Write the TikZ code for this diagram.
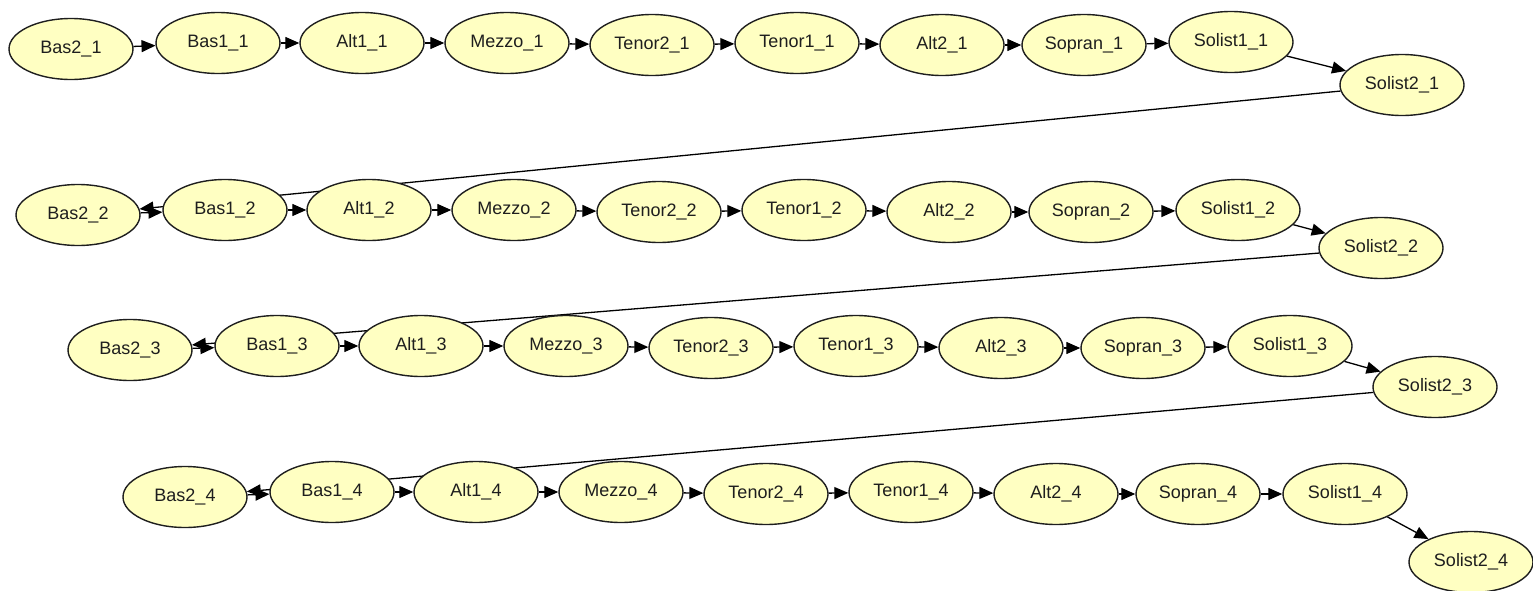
\documentclass[tikz,border=0pt]{standalone}
\usepackage{fontspec}
\setmainfont{Liberation Sans}
\usepackage{tikz}
\usetikzlibrary{shapes.geometric,arrows.meta,backgrounds}
\definecolor{yellish}{HTML}{FFFFC2}
\definecolor{dgreyish}{HTML}{1E1E1E}

\begin{document}
\begin{tikzpicture}[
   x=0.5pt, y=-0.5pt,
   every node/.append style={font=\fontsize{9}{10}\selectfont, text=dgreyish},
   voice/.style={ellipse, draw=dgreyish, fill=yellish, line width=0.7pt,
                 minimum width=62pt, minimum height=30.5pt, inner sep=0pt},
   link/.style={-{Triangle[length=7pt,width=6pt]}, line width=0.65pt, draw=black}
]
\useasboundingbox (0,0) rectangle (1533,590);

% row 1
\node[voice] (bas2-1)    at (71,49)    {Bas2\_1};
\node[voice] (bas1-1)    at (218,43)   {Bas1\_1};
\node[voice] (alt1-1)    at (362,43)   {Alt1\_1};
\node[voice] (mezzo-1)   at (507,43)   {Mezzo\_1};
\node[voice] (tenor2-1)  at (652,45)   {Tenor2\_1};
\node[voice] (tenor1-1)  at (797,43)   {Tenor1\_1};
\node[voice] (alt2-1)    at (942,45)   {Alt2\_1};
\node[voice] (sopran-1)  at (1084,45)  {Sopran\_1};
\node[voice] (solist1-1) at (1231,42)  {Solist1\_1};
\node[voice] (solist2-1) at (1402,85)  {Solist2\_1};

% row 2
\node[voice] (bas2-2)    at (78,215)   {Bas2\_2};
\node[voice] (bas1-2)    at (225,210)  {Bas1\_2};
\node[voice] (alt1-2)    at (369,210)  {Alt1\_2};
\node[voice] (mezzo-2)   at (514,210)  {Mezzo\_2};
\node[voice] (tenor2-2)  at (659,212)  {Tenor2\_2};
\node[voice] (tenor1-2)  at (804,210)  {Tenor1\_2};
\node[voice] (alt2-2)    at (949,212)  {Alt2\_2};
\node[voice] (sopran-2)  at (1091,212) {Sopran\_2};
\node[voice] (solist1-2) at (1238,210) {Solist1\_2};
\node[voice] (solist2-2) at (1381,248) {Solist2\_2};

% row 3
\node[voice] (bas2-3)    at (130,350)  {Bas2\_3};
\node[voice] (bas1-3)    at (277,346)  {Bas1\_3};
\node[voice] (alt1-3)    at (421,346)  {Alt1\_3};
\node[voice] (mezzo-3)   at (566,346)  {Mezzo\_3};
\node[voice] (tenor2-3)  at (711,348)  {Tenor2\_3};
\node[voice] (tenor1-3)  at (856,346)  {Tenor1\_3};
\node[voice] (alt2-3)    at (1001,348) {Alt2\_3};
\node[voice] (sopran-3)  at (1143,348) {Sopran\_3};
\node[voice] (solist1-3) at (1290,346) {Solist1\_3};
\node[voice] (solist2-3) at (1435,387) {Solist2\_3};

% row 4
\node[voice] (bas2-4)    at (185,497)  {Bas2\_4};
\node[voice] (bas1-4)    at (332,492)  {Bas1\_4};
\node[voice] (alt1-4)    at (476,492)  {Alt1\_4};
\node[voice] (mezzo-4)   at (621,492)  {Mezzo\_4};
\node[voice] (tenor2-4)  at (766,494)  {Tenor2\_4};
\node[voice] (tenor1-4)  at (911,492)  {Tenor1\_4};
\node[voice] (alt2-4)    at (1056,494) {Alt2\_4};
\node[voice] (sopran-4)  at (1198,494) {Sopran\_4};
\node[voice] (solist1-4) at (1345,494) {Solist1\_4};
\node[voice] (solist2-4) at (1471,562) {Solist2\_4};

\begin{scope}[on background layer]
% row 1
\draw[link] (bas2-1) edge (bas1-1) (bas1-1) edge (alt1-1) (alt1-1) edge (mezzo-1)
  (mezzo-1) edge (tenor2-1) (tenor2-1) edge (tenor1-1) (tenor1-1) edge (alt2-1)
  (alt2-1) edge (sopran-1) (sopran-1) edge (solist1-1) (solist1-1) edge (solist2-1);
\draw[link] (solist2-1) -- (bas2-2);
% row 2
\draw[link] (bas2-2) edge (bas1-2) (bas1-2) edge (alt1-2) (alt1-2) edge (mezzo-2)
  (mezzo-2) edge (tenor2-2) (tenor2-2) edge (tenor1-2) (tenor1-2) edge (alt2-2)
  (alt2-2) edge (sopran-2) (sopran-2) edge (solist1-2) (solist1-2) edge (solist2-2);
\draw[link] (solist2-2) -- (bas2-3);
% row 3
\draw[link] (bas2-3) edge (bas1-3) (bas1-3) edge (alt1-3) (alt1-3) edge (mezzo-3)
  (mezzo-3) edge (tenor2-3) (tenor2-3) edge (tenor1-3) (tenor1-3) edge (alt2-3)
  (alt2-3) edge (sopran-3) (sopran-3) edge (solist1-3) (solist1-3) edge (solist2-3);
\draw[link] (solist2-3) -- (bas2-4);
% row 4
\draw[link] (bas2-4) edge (bas1-4) (bas1-4) edge (alt1-4) (alt1-4) edge (mezzo-4)
  (mezzo-4) edge (tenor2-4) (tenor2-4) edge (tenor1-4) (tenor1-4) edge (alt2-4)
  (alt2-4) edge (sopran-4) (sopran-4) edge (solist1-4) (solist1-4) edge (solist2-4);
\end{scope}
\end{tikzpicture}
\end{document}
